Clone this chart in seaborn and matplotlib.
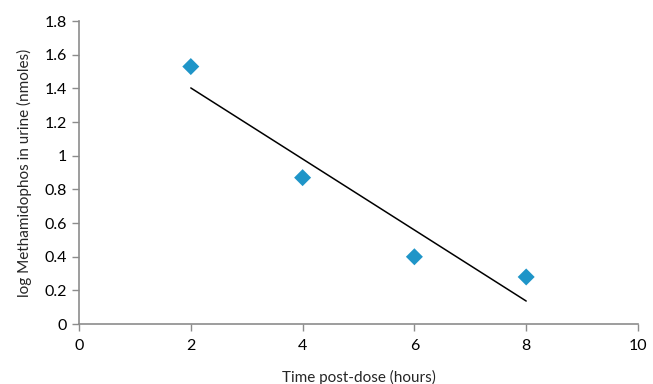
import seaborn as sns
import pandas as pd
from matplotlib import pyplot as plt

hours = [2, 4, 6, 8]
log_metamidophos = [1.53, 0.87, 0.40, 0.28]

df = pd.DataFrame({"hours": hours, "log_met": log_metamidophos})

sns.set_style("white")
plt.rcParams['font.family'] = ['Lato', 'DejaVu Sans']

fig = plt.figure(figsize=(6.53, 3.84), dpi=100)
ax = fig.add_axes([0.121, 0.156, 0.856, 0.789])

sns.regplot(
    data=df, x="hours", y="log_met", ax=ax, ci=None, marker="D",
    scatter_kws={"color": "#1f95c8", "s": 75, "edgecolor": "none", "alpha": 1, "zorder": 3},
    line_kws={"color": "black", "lw": 1.1},
)

ax.set_xlim(0, 10)
ax.set_ylim(0, 1.8)
ax.set_xticks([0, 2, 4, 6, 8, 10])
ax.set_yticks([0, 0.2, 0.4, 0.6, 0.8, 1, 1.2, 1.4, 1.6, 1.8])
ax.set_yticklabels(["0", "0.2", "0.4", "0.6", "0.8", "1", "1.2", "1.4", "1.6", "1.8"])
ax.set_xlabel("Time post-dose (hours)", fontsize=11, labelpad=12)
ax.set_ylabel("log Methamidophos in urine (nmoles)", fontsize=11, labelpad=9)

sns.despine(ax=ax)
for side in ["left", "bottom"]:
    ax.spines[side].set_color("#8c8c8c")
    ax.spines[side].set_linewidth(1.2)
ax.tick_params(axis="both", direction="out", length=5, width=1, color="#8c8c8c",
               labelsize=11.5, labelcolor="black", left=True, bottom=True)
ax.tick_params(axis="x", pad=6)

plt.savefig("out.png", dpi=100)
